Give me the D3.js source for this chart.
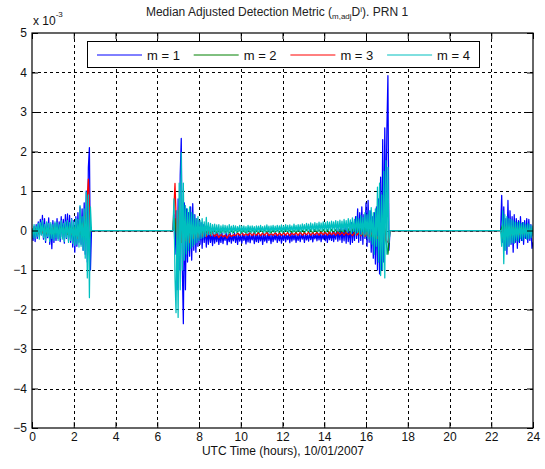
<!DOCTYPE html>
<html>
<head>
<meta charset="utf-8">
<script src="https://cdn.jsdelivr.net/npm/d3@7"></script>
<style>
  body { margin: 0; background: #fff; }
  svg { display: block; font-family: "Liberation Sans", Arial, sans-serif; }
</style>
</head>
<body>
<svg id="chart" width="545" height="469"></svg>
<script>
// Series labels and colours (MATLAB default line order)
const seriesNames = ["m = 1", "m = 2", "m = 3", "m = 4"];
const seriesColors = ["#0000ff", "#008000", "#ff0000", "#00bfbf"];

// Axis ticks (y values are in units of 1e-3)
const xTickValues = [0, 2, 4, 6, 8, 10, 12, 14, 16, 18, 20, 22, 24];
const yTickValues = [-5, -4, -3, -2, -1, 0, 1, 2, 3, 4, 5];

// Satellite visibility passes: start time (hours UTC) of each recorded segment
const segStart = [0, 6.75, 22.45];
const fineStep = 0.05;   // sample spacing (hours) for m = 1 and m = 4
const coarseStep = 0.1;  // sample spacing (hours) for m = 2 and m = 3

// m = 1
const m1a = [-0.05,-0.25,0.10,-0.28,0.15,-0.20,0.22,-0.15,0.28,-0.10,
  0.38,-0.22,0.30,-0.30,0.20,-0.18,0.32,-0.35,0.15,-0.46,
  0.25,-0.30,0.18,-0.25,0.30,-0.20,0.22,-0.28,0.35,-0.15,
  0.28,-0.32,0.40,-0.20,0.42,-0.25,0.38,-0.30,0.30,-0.42,
  0.25,-0.55,0.35,-0.40,0.45,-0.30,0.60,-0.35,0.55,-0.50,
  0.70,-0.60,1.00,-0.80,1.60,2.10,-1.00,0];
const m1b = [0,0.40,-0.60,0.50,-1.50,0.80,-1.00,1.40,2.33,-0.90,-2.36,0.70,-1.50,0.55,-0.80,0.45,-0.65,0.60,-0.75,0.68,
  -0.50,0.40,-0.55,0.30,-0.40,0.25,-0.35,0.20,-0.45,0.15,-0.30,0.10,-0.42,0.05,-0.35,0.00,-0.30,-0.05,-0.38,-0.02,
  -0.32,-0.08,-0.28,-0.05,-0.35,-0.10,-0.30,-0.06,-0.33,-0.12,-0.25,-0.05,-0.36,-0.10,-0.28,-0.08,-0.32,-0.12,-0.26,-0.06,
  -0.30,-0.10,-0.35,-0.08,-0.27,-0.12,-0.32,-0.07,-0.25,-0.11,-0.34,-0.09,-0.29,-0.06,-0.31,-0.12,-0.24,-0.08,-0.33,-0.10,
  -0.28,-0.07,-0.30,-0.11,-0.26,-0.09,-0.35,-0.08,-0.27,-0.12,-0.31,-0.06,-0.25,-0.10,-0.33,-0.09,-0.28,-0.11,-0.24,-0.07,
  -0.30,-0.10,-0.26,-0.08,-0.32,-0.12,-0.25,-0.07,-0.29,-0.11,-0.23,-0.09,-0.31,-0.06,-0.27,-0.10,-0.24,-0.08,-0.30,-0.11,
  -0.25,-0.09,-0.28,-0.07,-0.22,-0.10,-0.30,-0.08,-0.24,-0.11,-0.27,-0.06,-0.23,-0.09,-0.29,-0.10,-0.21,-0.07,-0.26,-0.08,
  -0.24,-0.06,-0.28,-0.09,-0.22,-0.05,-0.26,-0.08,-0.30,-0.04,-0.23,-0.07,-0.25,-0.02,-0.28,-0.06,-0.22,0.05,-0.27,-0.03,
  -0.24,0.08,-0.30,0.02,-0.26,0.10,-0.32,0.15,-0.28,0.05,-0.35,0.20,-0.30,0.12,-0.25,0.35,-0.20,0.55,-0.30,0.45,
  -0.25,0.60,-0.35,0.40,-0.20,0.70,-0.40,0.76,-0.30,0.50,-0.55,0.35,-0.70,0.45,-0.85,0.60,-1.00,0.80,-1.10,1.35,
  -1.00,2.30,-0.80,2.60,0.20,2.55,3.92,-0.50,0];
const m1c = [0,0.89,-0.30,0.60,-0.50,0.30,-0.60,0.76,-0.40,0.50,
  -0.35,0.35,-0.55,0.40,-0.30,0.30,-0.45,0.25,-0.30,0.35,
  -0.25,0.20,-0.35,0.25,-0.20,0.30,-0.30,0.28,-0.25,0.15,-0.45,-0.30];

// m = 2
const m2a = [0.05,-0.08,0.06,-0.05,0.08,-0.06,0.05,-0.08,0.07,-0.05,
  0.06,-0.09,0.08,-0.06,0.10,-0.07,0.08,-0.10,0.12,-0.08,
  0.10,-0.12,0.15,-0.10,0.18,-0.15,0.30,-0.35,0];
const m2b = [0,0.30,-0.35,0.25,-0.30,0.20,-0.15,0.12,-0.10,0.08,
  -0.08,0.06,-0.07,0.05,-0.06,0.04,-0.05,0.03,-0.06,0.02,
  0.01,-0.05,0.00,-0.06,0.02,-0.04,0.01,-0.06,0.00,-0.05,
  0.02,-0.04,0.01,-0.05,0.00,-0.06,0.02,-0.04,0.01,-0.05,
  0.00,-0.06,0.02,-0.04,0.01,-0.05,0.00,-0.06,0.02,-0.04,
  0.01,-0.05,0.00,-0.06,0.02,-0.04,0.01,-0.05,0.00,-0.06,
  0.02,-0.05,0.01,-0.06,0.03,-0.04,0.02,-0.07,0.03,-0.05,
  0.02,-0.07,0.03,-0.06,0.02,-0.08,0.03,-0.05,0.02,-0.07,
  0.03,-0.06,0.02,-0.08,0.04,-0.05,0.03,-0.07,0.05,-0.06,
  0.06,-0.10,0.08,-0.12,0.10,-0.15,0.12,-0.20,0.15,-0.25,
  0.20,0.43,-0.25,-0.60,0];
const m2c = [0,0.15,-0.10,0.12,-0.08,0.10,-0.06,0.08,-0.05,0.06,0.10,-0.04,0.05,-0.06,0.04,-0.05];

// m = 3
const m3a = [0.02,-0.06,0.05,-0.08,0.04,-0.05,0.07,-0.06,0.05,-0.08,
  0.06,-0.05,0.08,-0.07,0.05,-0.09,0.06,-0.08,0.07,-0.10,
  0.08,-0.12,-0.20,0.10,-0.15,0.20,0.45,1.30,0];
const m3b = [0,1.19,-0.40,0.60,-0.30,0.40,-0.25,0.20,-0.30,0.15,
  -0.20,0.10,-0.18,0.05,-0.15,0.02,-0.16,-0.02,-0.14,-0.05,
  -0.15,-0.08,-0.18,-0.10,-0.16,-0.12,-0.19,-0.09,-0.15,-0.11,
  -0.13,-0.07,-0.12,-0.06,-0.13,-0.08,-0.12,-0.06,-0.13,-0.07,
  -0.12,-0.06,-0.13,-0.07,-0.12,-0.05,-0.13,-0.08,-0.12,-0.06,
  -0.13,-0.07,-0.12,-0.06,-0.12,-0.05,-0.13,-0.07,-0.11,-0.06,
  -0.12,-0.05,-0.12,-0.06,-0.11,-0.04,-0.12,-0.06,-0.11,-0.05,
  -0.12,-0.04,-0.11,-0.05,-0.12,-0.04,-0.11,-0.05,-0.12,-0.04,
  -0.11,-0.05,-0.12,-0.04,-0.11,-0.06,-0.13,-0.05,-0.12,-0.06,
  -0.14,-0.05,-0.15,-0.04,-0.16,-0.06,-0.15,-0.05,-0.20,-0.08,
  -0.15,0.20,-0.25,-0.30,0];
const m3c = [0,-0.20,0.10,-0.15,0.08,-0.12,0.10,-0.08,0.06,-0.10,0.05,-0.08,0.06,-0.07,0.05,-0.06];

// m = 4
const m4a = [0.05,-0.18,0.15,-0.20,0.12,-0.15,0.18,-0.22,0.20,-0.12,
  0.25,-0.18,0.15,-0.25,0.22,-0.15,0.18,-0.28,0.20,-0.20,
  0.15,-0.25,0.22,-0.18,0.20,-0.25,0.15,-0.20,0.25,-0.22,
  0.18,-0.28,0.22,-0.18,0.25,-0.30,0.20,-0.25,0.28,-0.32,
  0.22,-0.38,0.30,-0.35,0.28,-0.42,0.63,-0.40,0.35,-0.50,
  0.55,-0.70,0.97,-1.20,0.90,-1.70,0.60,0];
const m4b = [0,0.80,-1.20,-2.08,0.50,-2.20,1.20,-1.50,1.97,-1.00,1.20,-0.75,0.63,-0.60,0.55,-0.50,0.60,-0.45,0.45,-0.40,
  0.40,-0.35,0.30,-0.30,0.35,-0.25,0.25,-0.20,0.30,-0.18,0.22,-0.15,0.33,-0.12,0.20,-0.10,0.18,-0.12,0.15,-0.08,
  0.16,-0.08,0.14,-0.06,0.15,-0.10,0.12,-0.05,0.14,-0.08,0.13,-0.06,0.12,-0.09,0.15,-0.05,0.11,-0.07,0.13,-0.04,
  0.12,-0.06,0.10,-0.03,0.13,-0.08,0.11,-0.04,0.12,-0.05,0.10,-0.07,0.13,-0.03,0.11,-0.06,0.12,-0.04,0.10,-0.08,
  0.12,-0.03,0.11,-0.05,0.13,-0.02,0.10,-0.06,0.12,-0.04,0.14,-0.03,0.11,-0.07,0.12,-0.02,0.13,-0.05,0.11,-0.03,
  0.13,-0.04,0.12,-0.02,0.14,-0.06,0.12,-0.03,0.15,-0.02,0.13,-0.05,0.14,-0.01,0.12,-0.04,0.16,-0.02,0.13,-0.03,
  0.15,-0.02,0.14,-0.04,0.17,0.00,0.15,-0.03,0.18,-0.01,0.16,-0.04,0.19,0.00,0.17,-0.02,0.20,-0.01,0.18,-0.03,
  0.21,0.00,0.19,-0.02,0.22,0.01,0.20,-0.03,0.23,0.00,0.21,-0.02,0.24,0.01,0.22,-0.01,0.25,0.00,0.23,-0.02,
  0.26,0.00,0.24,-0.03,0.28,0.02,0.25,-0.05,0.30,0.00,0.27,-0.08,0.32,-0.02,0.28,-0.10,0.35,-0.05,0.30,-0.12,
  0.38,-0.10,0.33,-0.15,0.45,-0.12,0.40,-0.20,0.50,-0.25,0.58,-0.35,0.45,-0.60,0.55,-0.40,1.10,-0.80,1.20,-1.14,
  0.90,-1.00,1.50,-1.20,1.77,-0.60,1.60,-0.30,0];
const m4c = [0,-0.40,0.50,-0.84,0.40,-0.50,0.35,-0.40,0.30,-0.35,
  0.28,-0.30,0.25,-0.32,0.22,-0.25,0.20,-0.28,0.22,-0.20,
  0.18,-0.25,0.20,-0.18,0.15,-0.22,0.18,-0.20,0.15,-0.18,0.12,-0.15];

const series = [
  { name: seriesNames[0], color: seriesColors[0], step: fineStep,   segs: [m1a, m1b, m1c] },
  { name: seriesNames[1], color: seriesColors[1], step: coarseStep, segs: [m2a, m2b, m2c] },
  { name: seriesNames[2], color: seriesColors[2], step: coarseStep, segs: [m3a, m3b, m3c] },
  { name: seriesNames[3], color: seriesColors[3], step: fineStep,   segs: [m4a, m4b, m4c] }
];

function toPoints(s) {
  const pts = [];
  s.segs.forEach((vals, k) => vals.forEach((v, i) => pts.push([segStart[k] + i * s.step, v])));
  return pts;
}

const svg = d3.select("#chart");
const plot = { left: 32, right: 533, top: 33, bottom: 428 };

const x = d3.scaleLinear().domain([0, 24]).range([plot.left, plot.right]);
const y = d3.scaleLinear().domain([-5, 5]).range([plot.bottom, plot.top]);

// grid
const grid = svg.append("g").attr("stroke", "#000").attr("stroke-width", 1)
  .attr("stroke-dasharray", "3,3").attr("shape-rendering", "crispEdges");
grid.selectAll("line.gx").data(xTickValues.slice(1, -1)).join("line")
  .attr("x1", d => Math.round(x(d)) + 0.5).attr("x2", d => Math.round(x(d)) + 0.5)
  .attr("y1", plot.top).attr("y2", plot.bottom);
grid.selectAll("line.gy").data(yTickValues.slice(1, -1)).join("line")
  .attr("y1", d => Math.round(y(d)) + 0.5).attr("y2", d => Math.round(y(d)) + 0.5)
  .attr("x1", plot.left).attr("x2", plot.right);

// data lines
svg.append("defs").append("clipPath").attr("id", "clip")
  .append("rect").attr("x", plot.left).attr("y", plot.top)
  .attr("width", plot.right - plot.left).attr("height", plot.bottom - plot.top);

const line = d3.line().x(d => x(d[0])).y(d => y(d[1]));
svg.append("g").attr("clip-path", "url(#clip)")
  .selectAll("path").data(series).join("path")
  .attr("d", s => line(toPoints(s)))
  .attr("fill", "none")
  .attr("stroke", s => s.color)
  .attr("stroke-width", 1.25)
  .attr("stroke-linejoin", "round");

// axes with inward ticks on all four sides
const tickLen = 6;
function styleAxis(g) {
  g.select(".domain").remove();
  g.selectAll(".tick line").attr("stroke", "#000");
  g.selectAll(".tick text").attr("fill", "#111").style("font-size", "12px")
    .style("font-family", "'Liberation Sans', Arial, sans-serif");
}
svg.append("g").attr("transform", `translate(0,${plot.bottom})`)
  .call(d3.axisBottom(x).tickValues(xTickValues).tickFormat(d3.format("d"))
    .tickSizeInner(-tickLen).tickSizeOuter(0).tickPadding(4))
  .call(styleAxis);
svg.append("g").attr("transform", `translate(0,${plot.top})`)
  .call(d3.axisTop(x).tickValues(xTickValues).tickFormat("")
    .tickSizeInner(-tickLen).tickSizeOuter(0))
  .call(styleAxis);
svg.append("g").attr("transform", `translate(${plot.left},0)`)
  .call(d3.axisLeft(y).tickValues(yTickValues).tickFormat(d3.format("d"))
    .tickSizeInner(-tickLen).tickSizeOuter(0).tickPadding(5))
  .call(styleAxis);
svg.append("g").attr("transform", `translate(${plot.right},0)`)
  .call(d3.axisRight(y).tickValues(yTickValues).tickFormat("")
    .tickSizeInner(-tickLen).tickSizeOuter(0))
  .call(styleAxis);

// axes box
svg.append("rect")
  .attr("x", plot.left).attr("y", plot.top)
  .attr("width", plot.right - plot.left).attr("height", plot.bottom - plot.top)
  .attr("fill", "none").attr("stroke", "#000").attr("stroke-width", 1.2);

// exponent label
const expo = svg.append("text").attr("x", plot.left + 1).attr("y", 25)
  .attr("fill", "#111").style("font-size", "12px");
expo.append("tspan").text("x 10");
expo.append("tspan").attr("dy", -8).style("font-size", "8px").text("-3");

// title
const title = svg.append("text").attr("x", 277).attr("y", 16)
  .attr("text-anchor", "middle").attr("fill", "#222").style("font-size", "12px");
title.append("tspan").text("Median Adjusted Detection Metric (");
title.append("tspan").attr("dy", 3).style("font-size", "8px").text("m,adj");
title.append("tspan").attr("dy", -3).text("D");
title.append("tspan").attr("dy", -4).style("font-size", "8px").text("i");
title.append("tspan").attr("dy", 4).text("). PRN 1");

// x axis label
svg.append("text").attr("x", 283).attr("y", 455).attr("text-anchor", "middle")
  .attr("fill", "#111").style("font-size", "12px")
  .text("UTC Time (hours), 10/01/2007");

// legend
const legend = svg.append("g");
legend.append("rect").attr("x", 87.5).attr("y", 41.5).attr("width", 392).attr("height", 26)
  .attr("fill", "#fff").attr("stroke", "#000").attr("stroke-width", 1);
const item = legend.selectAll("g.item").data(series).join("g")
  .attr("transform", (d, i) => `translate(${97 + i * 96.7},0)`);
item.append("line").attr("x1", 0).attr("x2", 45).attr("y1", 55).attr("y2", 55)
  .attr("stroke", d => d.color).attr("stroke-width", 1);
item.append("text").attr("x", 50).attr("y", 60).attr("fill", "#111")
  .style("font-size", "13px").text(d => d.name);
</script>
</body>
</html>
